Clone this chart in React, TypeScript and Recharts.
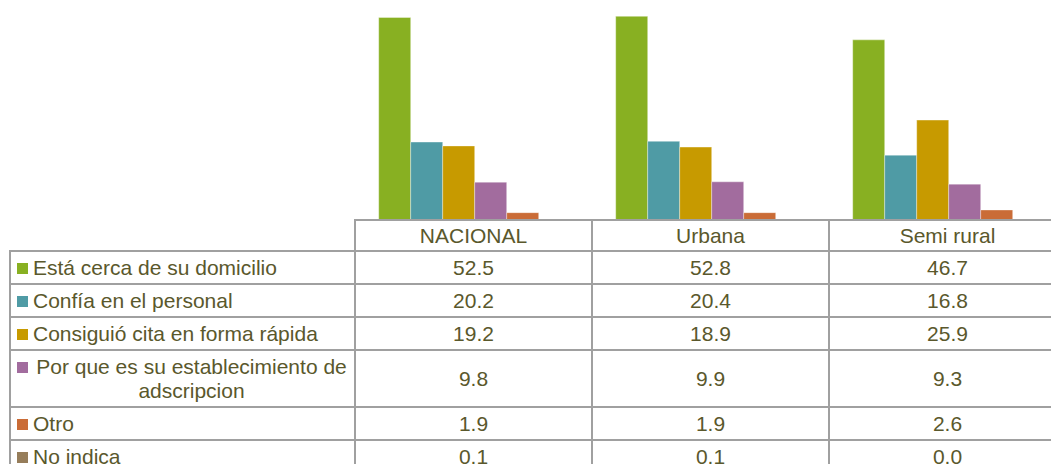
import React from 'react';
import { BarChart, Bar, XAxis, YAxis } from 'recharts';

const categories = ['NACIONAL', 'Urbana', 'Semi rural'];

const seriesNames = [
  'Está cerca de su domicilio',
  'Confía en el personal',
  'Consiguió cita en forma rápida',
  'Por que es su establecimiento de adscripcion',
  'Otro',
  'No indica',
];

const cercaDomicilio = [52.5, 52.8, 46.7];
const confiaPersonal = [20.2, 20.4, 16.8];
const citaRapida = [19.2, 18.9, 25.9];
const establecimiento = [9.8, 9.9, 9.3];
const otro = [1.9, 1.9, 2.6];
const noIndica = [0.1, 0.1, 0.0];

const seriesValues = [cercaDomicilio, confiaPersonal, citaRapida, establecimiento, otro, noIndica];
const colors = ['#88b022', '#4f9ba5', '#c79a00', '#a26c9e', '#ca6c37', '#967d5a'];

const data = categories.map((cat, i) => {
  const row: Record<string, string | number> = { name: cat };
  seriesNames.forEach((s, j) => {
    row['s' + j] = seriesValues[j][i];
  });
  return row;
});

const textColor = '#5a582c';
const gridColor = '#a0a0a0';
const font = '"Liberation Sans", Arial, sans-serif';

const cellBorder = `2px solid ${gridColor}`;

export default function App() {
  return (
    <div
      style={{
        position: 'absolute',
        left: 0,
        top: 0,
        width: 1051,
        height: 464,
        overflow: 'hidden',
        background: '#fff',
        fontFamily: font,
      }}
    >
      <BarChart
        width={1066}
        height={220}
        data={data}
        margin={{ top: 4, right: 0, bottom: 0, left: 355 }}
        barCategoryGap="10%"
        barGap={0}
      >
        <XAxis dataKey="name" hide />
        <YAxis hide domain={[0, 56]} />
        {seriesNames.map((s, j) => (
          <Bar
            key={s}
            dataKey={'s' + j}
            name={s}
            fill={colors[j]}
            stroke="#ffffff"
            strokeOpacity={0.35}
            strokeWidth={1}
            isAnimationActive={false}
          />
        ))}
      </BarChart>

      <table
        style={{
          position: 'absolute',
          left: 9,
          top: 219,
          borderCollapse: 'collapse',
          tableLayout: 'fixed',
          width: 1058,
          color: textColor,
          fontSize: 21,
          lineHeight: '24px',
        }}
      >
        <colgroup>
          <col style={{ width: 345 }} />
          {categories.map((c) => (
            <col key={c} style={{ width: 237 }} />
          ))}
        </colgroup>
        <tbody>
          <tr style={{ height: 31 }}>
            <td
              style={{
                borderTop: 'hidden',
                borderLeft: 'hidden',
                borderRight: cellBorder,
                borderBottom: cellBorder,
                padding: 0,
              }}
            />
            {categories.map((c) => (
              <td key={c} style={{ border: cellBorder, textAlign: 'center', padding: 0 }}>
                {c}
              </td>
            ))}
          </tr>
          {seriesNames.map((s, j) => (
            <tr key={s} style={{ height: j === 3 ? 57 : 33 }}>
              <td style={{ border: cellBorder, padding: '0 4px 0 6px' }}>
                <div style={{ display: 'flex', alignItems: 'flex-start' }}>
                  <span
                    style={{
                      display: 'inline-block',
                      width: 11,
                      height: 11,
                      background: colors[j],
                      marginTop: 7,
                      marginRight: 5,
                      flex: 'none',
                    }}
                  />
                  <span style={{ textAlign: 'center' }}>{s}</span>
                </div>
              </td>
              {categories.map((c, i) => (
                <td key={c} style={{ border: cellBorder, textAlign: 'center', padding: 0 }}>
                  {seriesValues[j][i].toFixed(1)}
                </td>
              ))}
            </tr>
          ))}
        </tbody>
      </table>
    </div>
  );
}
